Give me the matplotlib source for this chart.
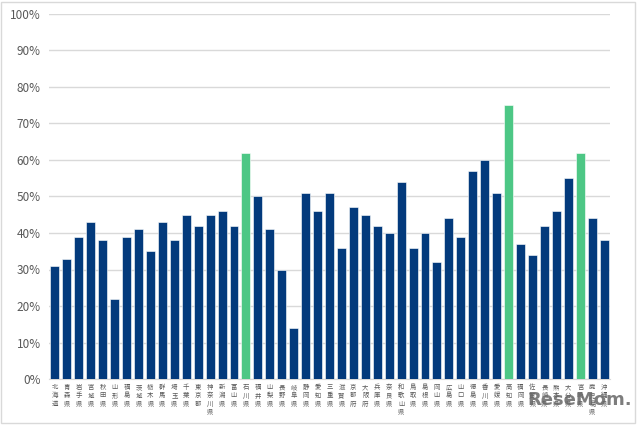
import matplotlib
matplotlib.use("Agg")
import matplotlib.pyplot as plt
from matplotlib.patches import Rectangle

plt.rcParams['font.family'] = ['Noto Sans CJK JP', 'DejaVu Sans']

prefectures = ['北海道', '青森県', '岩手県', '宮城県', '秋田県', '山形県', '福島県', '茨城県',
               '栃木県', '群馬県', '埼玉県', '千葉県', '東京都', '神奈川県', '新潟県', '富山県',
               '石川県', '福井県', '山梨県', '長野県', '岐阜県', '静岡県', '愛知県', '三重県',
               '滋賀県', '京都府', '大阪府', '兵庫県', '奈良県', '和歌山県', '鳥取県', '島根県',
               '岡山県', '広島県', '山口県', '徳島県', '香川県', '愛媛県', '高知県', '福岡県',
               '佐賀県', '長崎県', '熊本県', '大分県', '宮崎県', '鹿児島県', '沖縄県']
rates = [31, 33, 39, 43, 38, 22, 39, 41, 35, 43, 38, 45, 42, 45, 46, 42,
         62, 50, 41, 30, 14, 51, 46, 51, 36, 47, 45, 42, 40, 54, 36, 40,
         32, 44, 39, 57, 60, 51, 75, 37, 34, 42, 46, 55, 62, 44, 38]
highlight = ['石川県', '高知県', '宮崎県']

navy = '#033a7c'
green = '#4dc785'

fig = plt.figure(figsize=(6.4, 4.26), dpi=100)
ax = fig.add_axes([49 / 640, 47 / 426, 561 / 640, 365 / 426])

colors = [green if p in highlight else navy for p in prefectures]
x = range(len(prefectures))
ax.bar(x, [r / 100 for r in rates], width=0.75, color=colors,
       edgecolor='white', linewidth=0.4, zorder=3)

ax.set_xlim(-0.5, len(prefectures) - 0.5)
ax.set_ylim(0, 1.0)
ax.set_yticks([i / 10 for i in range(11)])
ax.set_yticklabels([f'{i * 10}%' for i in range(11)], fontsize=8.5, color='#595959')
ax.yaxis.grid(True, color='#d9d9d9', linewidth=1, zorder=0)
ax.tick_params(axis='y', length=0, pad=6)

ax.set_xticks(list(x))
ax.set_xticklabels(['\n'.join(p) for p in prefectures], fontsize=4.6,
                   color='#595959', va='top', linespacing=1.05)
ax.tick_params(axis='x', length=0, pad=3)

for s in ['top', 'right', 'left']:
    ax.spines[s].set_visible(False)
ax.spines['bottom'].set_color('#d9d9d9')

# outer frame of the chart area
fig.patches.append(Rectangle((1 / 640, 3 / 426), 634 / 640, 421 / 426,
                             transform=fig.transFigure, fill=False,
                             edgecolor='#d9d9d9', linewidth=1))

# watermark
fig.text(0.905, 0.06, 'ReseMom.', fontsize=13, fontweight='bold',
         color='#666666', alpha=0.85, ha='center', va='center',
         family='DejaVu Sans')

fig.savefig('out.png', dpi=100)
